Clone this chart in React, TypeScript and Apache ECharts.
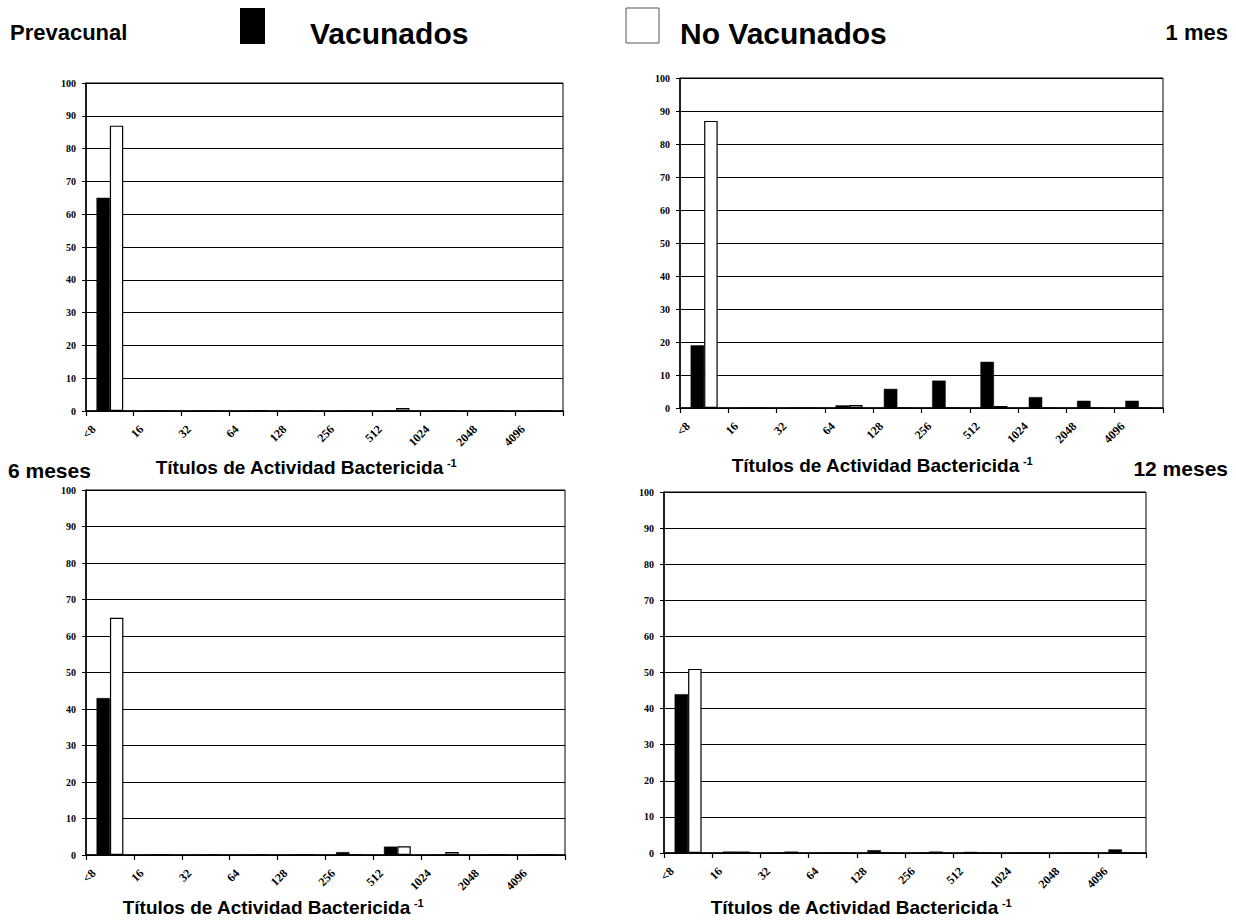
import React, { useEffect, useRef } from "react";
import * as echarts from "echarts";

const titers = ["<8", "16", "32", "64", "128", "256", "512", "1024", "2048", "4096"];

const prevVac = [65, 0, 0, 0, 0, 0, 0, 0, 0, 0];
const prevNoVac = [87, 0, 0, 0.3, 0, 0, 0.9, 0, 0, 0];
const mes1Vac = [19, 0, 0, 0.8, 5.8, 8.3, 14, 3.3, 2.2, 2.2];
const mes1NoVac = [87, 0, 0, 0.9, 0, 0, 0.6, 0, 0, 0];
const mes6Vac = [43, 0, 0, 0, 0, 0.8, 2.3, 0, 0, 0];
const mes6NoVac = [65, 0, 0, 0, 0, 0, 2.4, 0.8, 0, 0];
const mes12Vac = [44, 0.4, 0, 0, 0.8, 0, 0.3, 0, 0, 1];
const mes12NoVac = [51, 0.4, 0.4, 0, 0, 0.4, 0, 0, 0, 0];

const seriesNames = ["Vacunados", "No Vacunados"];
const axisTitle = "Títulos de Actividad Bactericida";

const panels = [
  { left: 86, top: 83, width: 477, height: 328, vac: prevVac, novac: prevNoVac, tx: 306, ty: 467 },
  { left: 680, top: 78, width: 483, height: 330, vac: mes1Vac, novac: mes1NoVac, tx: 882, ty: 465 },
  { left: 86, top: 490, width: 479, height: 365, vac: mes6Vac, novac: mes6NoVac, tx: 273, ty: 907 },
  { left: 664, top: 492, width: 482, height: 361, vac: mes12Vac, novac: mes12NoVac, tx: 861, ty: 907 },
];

const SANS = "Liberation Sans, Arial, sans-serif";
const SERIF = "Liberation Serif, Times New Roman, serif";

export default function App() {
  const ref = useRef<HTMLDivElement>(null);
  useEffect(() => {
    if (!ref.current) return;
    const chart = echarts.init(ref.current, undefined, { renderer: "svg" });
    const grid: any[] = [];
    const xAxis: any[] = [];
    const yAxis: any[] = [];
    const series: any[] = [];
    const graphic: any[] = [];
    panels.forEach((p, i) => {
      grid.push({
        left: p.left, top: p.top, width: p.width, height: p.height,
        show: true, borderColor: "#000", borderWidth: 1, backgroundColor: "transparent",
      });
      xAxis.push({
        type: "category", gridIndex: i, data: titers, boundaryGap: true,
        axisLine: { show: true, lineStyle: { color: "#000", width: 1.5 } },
        axisTick: { show: true, length: 5, lineStyle: { color: "#000", width: 1.2 } },
        axisLabel: {
          show: true, interval: 0, rotate: 45, margin: 0, color: "#000",
          fontFamily: SERIF, fontWeight: "bold", fontSize: 12,
          padding: [0, 23, 0, 0],
        },
      });
      yAxis.push({
        type: "value", gridIndex: i, min: 0, max: 100, interval: 10,
        axisLine: { show: true, lineStyle: { color: "#000", width: 1.5 } },
        axisTick: { show: true, length: 4, lineStyle: { color: "#000" } },
        axisLabel: { color: "#000", fontFamily: SERIF, fontWeight: "bold", fontSize: 10, margin: 10 },
        splitLine: { show: true, lineStyle: { color: "#000", width: 1 } },
      });
      series.push({
        name: seriesNames[0], type: "bar", xAxisIndex: i, yAxisIndex: i, data: p.vac,
        barGap: "0%", barCategoryGap: "44%",
        itemStyle: { color: "#000", borderColor: "#000", borderWidth: 0.5 },
      });
      series.push({
        name: seriesNames[1], type: "bar", xAxisIndex: i, yAxisIndex: i, data: p.novac,
        barGap: "0%", barCategoryGap: "44%",
        itemStyle: { color: "#fff", borderColor: "#000", borderWidth: 1.2 },
      });
      graphic.push({
        type: "text", x: p.tx, y: p.ty,
        style: {
          text: "{a|" + axisTitle + "} {b|-1}",
          align: "center", verticalAlign: "middle",
          rich: {
            a: { fontFamily: SANS, fontWeight: "bold", fontSize: 19, fill: "#000" },
            b: { fontFamily: SANS, fontWeight: "bold", fontSize: 11, fill: "#000", verticalAlign: "top" },
          },
        },
      });
    });
    const headerFont = (size: number) => ({ fontFamily: SANS, fontWeight: "bold", fontSize: size, fill: "#000" });
    graphic.push(
      { type: "text", x: 10, y: 32, style: { text: "Prevacunal", ...headerFont(22), align: "left", verticalAlign: "middle" } },
      { type: "rect", shape: { x: 240, y: 8, width: 25, height: 36 }, style: { fill: "#000" } },
      { type: "text", x: 310, y: 33, style: { text: seriesNames[0], ...headerFont(30), align: "left", verticalAlign: "middle" } },
      { type: "rect", shape: { x: 626, y: 8, width: 33, height: 35 }, style: { fill: "#fff", stroke: "#555", lineWidth: 1 } },
      { type: "text", x: 680, y: 33, style: { text: seriesNames[1], ...headerFont(30), align: "left", verticalAlign: "middle" } },
      { type: "text", x: 1228, y: 32, style: { text: "1 mes", ...headerFont(22), align: "right", verticalAlign: "middle" } },
      { type: "text", x: 8, y: 470, style: { text: "6 meses", ...headerFont(21), align: "left", verticalAlign: "middle" } },
      { type: "text", x: 1228, y: 468, style: { text: "12 meses", ...headerFont(21), align: "right", verticalAlign: "middle" } },
    );
    chart.setOption({
      animation: false,
      backgroundColor: "#fff",
      grid, xAxis, yAxis, series, graphic,
    });
    return () => chart.dispose();
  }, []);
  return <div ref={ref} style={{ position: "absolute", left: 0, top: 0, width: 1236, height: 922 }} />;
}
